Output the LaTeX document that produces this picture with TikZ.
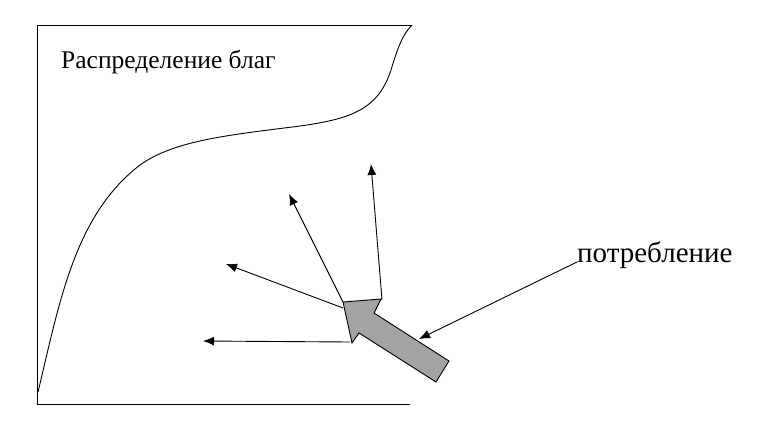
\documentclass[tikz,border=0pt]{standalone}
\usepackage{fontspec}
\setmainfont{Liberation Serif}
\usetikzlibrary{arrows.meta}
\definecolor{bigarrow}{gray}{0.64}
\tikzset{
  thin line/.style={line width=0.9pt, draw=black},
  vec/.style={line width=0.9pt, -{Latex[length=11pt,width=9pt]}},
  lbl/.style={inner sep=0pt, anchor=base west},
}
\begin{document}
\begin{tikzpicture}[x=1pt,y=-1pt]
\useasboundingbox (0,0) rectangle (760,429);
% frame
\draw[thin line] (412,25) -- (37,25) -- (37,404) -- (410,404);
% curve
\draw[thin line] (38,392) .. controls (60,300) and (75,215) .. (140,165)
  .. controls (175,140) and (230,135) .. (300,126)
  .. controls (350,119) and (378,110) .. (391,70)
  .. controls (397,50) and (402,35) .. (412,25);
% texts
\node[lbl, font=\fontsize{25.5}{28}\selectfont] (title) at (61,68) {Распределение благ};
\node[lbl, font=\fontsize{29}{32}\selectfont] (cons) at (577,262) {потребление};
% coordinates
\coordinate (s1) at (350,342);
\coordinate (e1) at (203,341);
\coordinate (s2) at (343,308);
\coordinate (e2) at (226,264);
\coordinate (s3) at (343,302);
\coordinate (e3) at (289,194);
\coordinate (s4) at (382,300);
\coordinate (e4) at (371,164);
\coordinate (hit) at (419,339);
% thin arrows
\draw[vec] (s1) -- (e1);
\draw[vec] (s2) -- (e2);
\draw[vec] (s3) -- (e3);
\draw[vec] (s4) -- (e4);
\draw[vec] (cons.base west) -- (hit);
% big gray arrow
\draw[line width=0.9pt, fill=bigarrow] (343,302) -- (381,299) -- (374,313) -- (449,361)
  -- (436,382) -- (359,333) -- (352,343) -- cycle;
\end{tikzpicture}
\end{document}
